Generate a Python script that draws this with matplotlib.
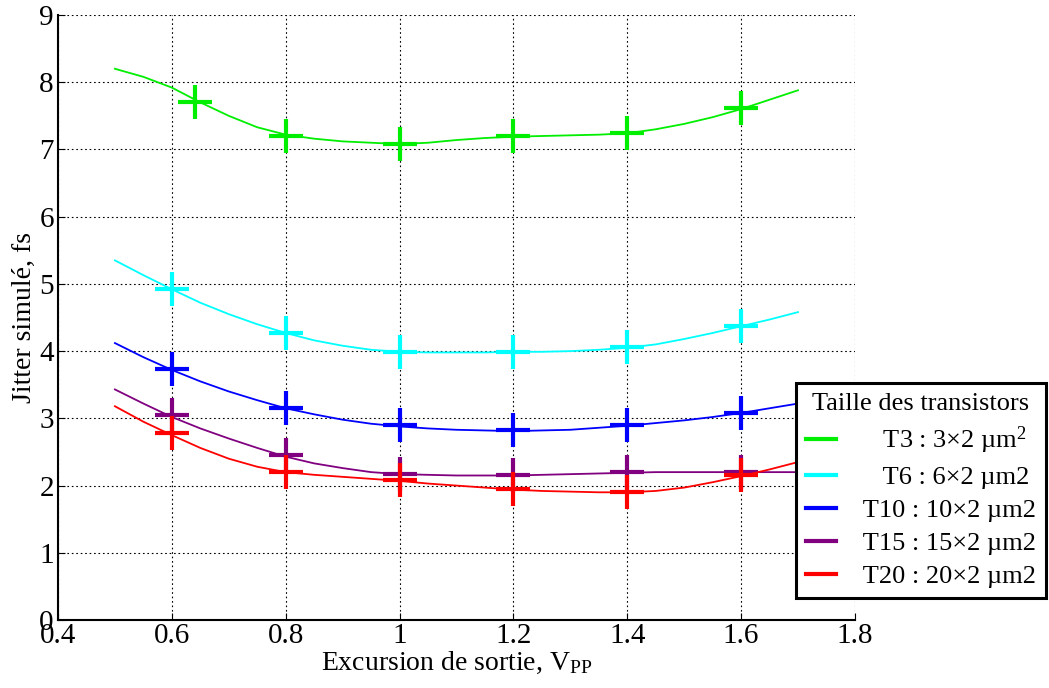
import matplotlib
matplotlib.use("Agg")
import matplotlib.pyplot as plt

plt.rcParams['font.family'] = ['Liberation Serif', 'DejaVu Serif']
plt.rcParams['mathtext.fontset'] = 'custom'
plt.rcParams['mathtext.rm'] = 'Liberation Serif'
plt.rcParams['mathtext.it'] = 'Liberation Serif:italic'

# Smooth-curve readings (x = 0.5 ... 1.7, step 0.05)
curve_x = [0.50, 0.55, 0.60, 0.65, 0.70, 0.75, 0.80, 0.85, 0.90, 0.95, 1.00, 1.05, 1.10,
           1.15, 1.20, 1.25, 1.30, 1.35, 1.40, 1.45, 1.50, 1.55, 1.60, 1.65, 1.70]
curve_t3 = [8.20, 8.08, 7.92, 7.70, 7.50, 7.33, 7.22, 7.16, 7.12, 7.10, 7.08, 7.10, 7.14,
            7.17, 7.19, 7.20, 7.21, 7.22, 7.24, 7.30, 7.38, 7.48, 7.60, 7.74, 7.88]
curve_t6 = [5.35, 5.13, 4.92, 4.72, 4.55, 4.40, 4.27, 4.16, 4.08, 4.02, 3.99, 3.98, 3.98,
            3.98, 3.99, 3.99, 4.00, 4.02, 4.05, 4.10, 4.18, 4.27, 4.37, 4.47, 4.58]
curve_t10 = [4.12, 3.91, 3.72, 3.55, 3.40, 3.27, 3.15, 3.06, 2.98, 2.92, 2.88, 2.85, 2.83,
             2.82, 2.81, 2.82, 2.83, 2.86, 2.89, 2.93, 2.97, 3.02, 3.08, 3.15, 3.22]
curve_t15 = [3.43, 3.22, 3.02, 2.85, 2.70, 2.56, 2.43, 2.33, 2.26, 2.20, 2.17, 2.16, 2.15,
             2.15, 2.15, 2.16, 2.17, 2.18, 2.19, 2.20, 2.20, 2.20, 2.20, 2.20, 2.20]
curve_t20 = [3.18, 2.95, 2.75, 2.56, 2.40, 2.28, 2.20, 2.16, 2.13, 2.10, 2.07, 2.03, 2.00,
             1.97, 1.94, 1.92, 1.91, 1.90, 1.90, 1.92, 1.97, 2.05, 2.14, 2.24, 2.35]

# Simulated points ('+' markers)
pts_x_t3 = [0.64, 0.8, 1.0, 1.2, 1.4, 1.6]
pts_t3 = [7.70, 7.20, 7.08, 7.20, 7.25, 7.62]
pts_x = [0.6, 0.8, 1.0, 1.2, 1.4, 1.6]
pts_t6 = [4.92, 4.27, 3.98, 3.98, 4.06, 4.37]
pts_t10 = [3.74, 3.15, 2.90, 2.82, 2.90, 3.08]
pts_t15 = [3.05, 2.45, 2.17, 2.15, 2.20, 2.20]
pts_t20 = [2.78, 2.20, 2.08, 1.95, 1.90, 2.15]

labels = ['     T3 : 3×2 µm$^2$', '     T6 : 6×2 µm2', '  T10 : 10×2 µm2',
          '  T15 : 15×2 µm2', '  T20 : 20×2 µm2']
colors = ['#00ee00', '#00ffff', '#0000ff', '#800080', '#ff0000']

fig = plt.figure(figsize=(10.49, 6.88), dpi=100)
ax = fig.add_axes([0.0553, 0.0988, 0.7597, 0.8794])

curves = [curve_t3, curve_t6, curve_t10, curve_t15, curve_t20]
pts = [(pts_x_t3, pts_t3), (pts_x, pts_t6), (pts_x, pts_t10), (pts_x, pts_t15), (pts_x, pts_t20)]
handles = []
for c, (px, py), col, lab in zip(curves, pts, colors, labels):
    h, = ax.plot(curve_x, c, color=col, lw=1.3, label=lab)
    ax.plot(px, py, linestyle='none', marker='+', ms=24, mew=3, color=col)
    handles.append(h)

ax.set_xlim(0.4, 1.8)
ax.set_ylim(0, 9)
ax.set_xticks([0.4, 0.6, 0.8, 1.0, 1.2, 1.4, 1.6, 1.8])
ax.set_xticklabels(['0.4', '0.6', '0.8', '1', '1.2', '1.4', '1.6', '1.8'])
ax.set_yticks(range(10))
ax.grid(True, color='black', linestyle=(0, (1.5, 2.5)), lw=0.8)
ax.spines['top'].set_visible(False)
ax.spines['right'].set_visible(False)
ax.spines['left'].set_linewidth(1.5)
ax.spines['bottom'].set_linewidth(1.5)
ax.tick_params(direction='in', length=5, labelsize=21)
ax.tick_params(axis='y', pad=3)
ax.tick_params(axis='x', pad=2)
ax.set_xlabel(r'Excursion de sortie, V$_{\mathrm{PP}}$', fontsize=20, labelpad=1)
ax.set_ylabel('Jitter simulé, fs', fontsize=20, labelpad=2)

leg = fig.legend(handles=handles, labels=labels, loc='upper left',
                 bbox_to_anchor=(796 / 1049, 1 - 383 / 688),
                 title='Taille des transistors', fontsize=19, title_fontsize=19,
                 frameon=True, fancybox=False, edgecolor='black', framealpha=1,
                 handlelength=1.15, handletextpad=0.5, borderpad=0.38,
                 labelspacing=0.36, borderaxespad=0)
leg.get_frame().set_linewidth(2.2)
for l in leg.get_lines():
    l.set_linewidth(3)

fig.savefig('out.png', dpi=100)
